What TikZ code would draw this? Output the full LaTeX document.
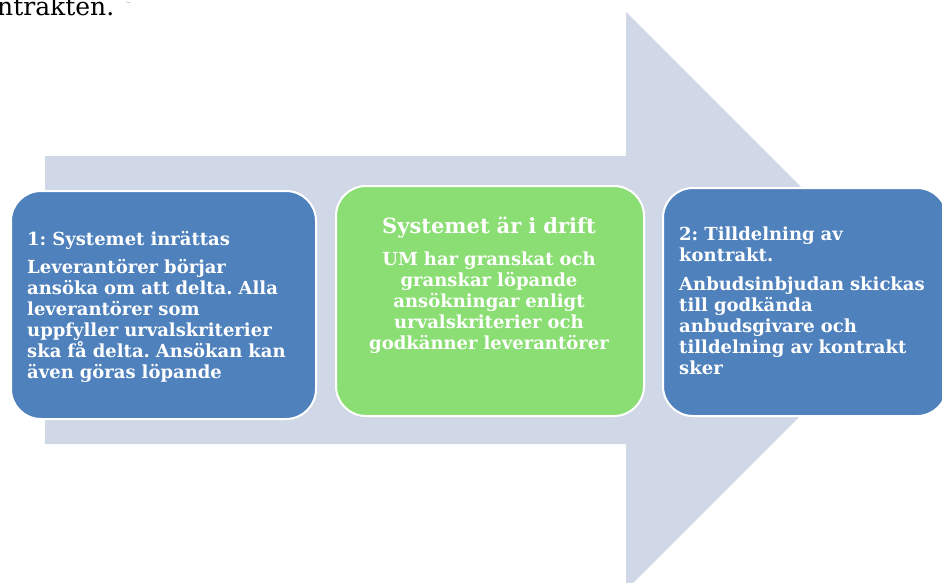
\documentclass[tikz,border=0pt]{standalone}
\usepackage{fontspec}
\setmainfont{DejaVu Serif}
\frenchspacing
\definecolor{boxblue}{HTML}{4F81BD}
\definecolor{boxgreen}{HTML}{8BDE74}
\definecolor{arrowgray}{HTML}{D0D8E8}
\tikzset{
  stage/.style={draw=white, line width=2pt, rounded corners=30pt, anchor=north west, inner sep=0pt},
  bluebox/.style={stage, fill=boxblue},
  greenbox/.style={stage, fill=boxgreen},
  btext/.style={text=white, font=\bfseries\fontsize{18}{21}\selectfont\frenchspacing, inner sep=0pt, anchor=base west, align=left, text width=300pt},
  ctext/.style={text=white, font=\bfseries\fontsize{18}{21}\selectfont\frenchspacing, inner sep=0pt, anchor=base, align=center, text width=300pt},
}
\begin{document}
\begin{tikzpicture}[x=1pt,y=-1pt]
\useasboundingbox (0,0) rectangle (942,582);
\clip (0,0) rectangle (942,582);
% big arrow
\fill[arrowgray] (45,156) -- (626,156) -- (626,12) -- (915,301) -- (626,590) -- (626,444) -- (45,444) -- cycle;
% top-left cut text
\node[anchor=base west, inner sep=0pt, font=\fontsize{25}{28}\selectfont, text=black] (cut) at (-3,15) {ntrakten.};
\draw[gray!60, line width=0.6pt] (126,2) -- (130,2.5);
% boxes
\node[bluebox, minimum width=305pt, minimum height=228pt] (b1) at (10,190) {};
\node[greenbox, minimum width=308pt, minimum height=230pt] (b2) at (335,185) {};
\node[bluebox, minimum width=284pt, minimum height=228pt] (b3) at (662,187) {};
% box 1 text
\node[btext] (t1h) at (27,245) {1: Systemet inrättas};
\node[btext] (t1b) at (27,273) {Leverantörer börjar\\ansöka om att delta. Alla\\leverantörer som\\uppfyller urvalskriterier\\ska få delta. Ansökan kan\\även göras löpande};
% box 2 text
\node[ctext, font=\bfseries\fontsize{21}{24}\selectfont] (t2h) at (489,233) {Systemet är i drift};
\node[ctext] (t2b) at (489,265) {UM har granskat och\\granskar löpande\\ansökningar enligt\\urvalskriterier och\\godkänner leverantörer};
% box 3 text
\node[btext] (t3h) at (679,240) {2: Tilldelning av\\kontrakt.};
\node[btext] (t3b) at (679,290) {Anbudsinbjudan skickas\\till godkända\\anbudsgivare och\\tilldelning av kontrakt\\sker};
\end{tikzpicture}
\end{document}
